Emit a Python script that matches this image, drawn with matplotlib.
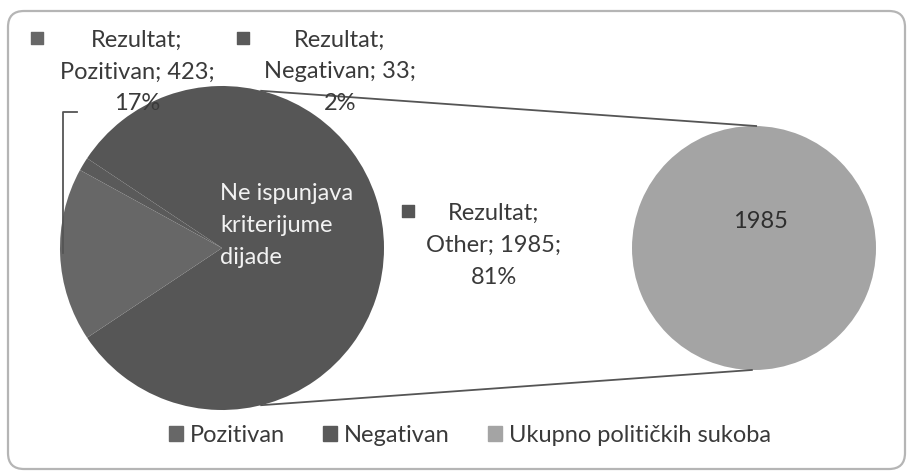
import numpy as np
import matplotlib
matplotlib.use('Agg')
import matplotlib.pyplot as plt
from matplotlib.patches import FancyBboxPatch, Patch

plt.rcParams['font.family'] = ['Lato', 'DejaVu Sans']

# ========== 数据 ==========
series_name = 'Rezultat'
slice_names = ['Pozitivan', 'Negativan', 'Other']
slice_values = [423, 33, 1985]
slice_percents = ['17%', '2%', '81%']
legend_labels = ['Pozitivan', 'Negativan', 'Ukupno političkih sukoba']
sub_values = [1985]
inner_text = ['Ne ispunjava', 'kriterijume', 'dijade']

W, H = 912, 471
def Y(y):
    return H - y

col_poz = '#676767'
col_neg = '#5a5a5a'
col_other = '#565656'
col_sub = '#a4a4a4'
txt = '#3a3a3a'

fig = plt.figure(figsize=(W / 100, H / 100), dpi=100)
ax = fig.add_axes([0, 0, 1, 1])

# ========== 主饼图 ==========
c1, r1 = (222, Y(248)), 162
total = sum(slice_values)
start = -360 * slice_values[2] / total / 2
ax.pie([slice_values[2], slice_values[1], slice_values[0]], center=c1, radius=r1,
       startangle=start, counterclock=True,
       colors=[col_other, col_neg, col_poz], wedgeprops=dict(linewidth=0))

# ========== 第二饼图 ==========
c2, r2 = (754, Y(248)), 122
ax.pie(sub_values, center=c2, radius=r2, colors=[col_sub],
       wedgeprops=dict(linewidth=0))
ax.text(c2[0] + 6, Y(222), str(sub_values[0]), ha='center', va='center',
        fontsize=17, color='#2e2e2e')

# 连接线
for a1, a2 in [(76, 89), (-76, -91)]:
    p1 = (c1[0] + r1 * np.cos(np.radians(a1)), c1[1] + r1 * np.sin(np.radians(a1)))
    p2 = (c2[0] + r2 * np.cos(np.radians(a2)), c2[1] + r2 * np.sin(np.radians(a2)))
    ax.plot([p1[0], p2[0]], [p1[1], p2[1]], color='#555555', lw=1.3, zorder=1)

# 饼内白字
for i, s in enumerate(inner_text):
    ax.text(220, Y(193 + 32 * i), s, ha='left', va='center', fontsize=17,
            color='#f2f2f2')

# ========== 数据标签 ==========
label_pos = [(137, 40, 37), (340, 40, 243), (494, 213, 408)]
label_cols = [col_poz, col_neg, col_other]
for k in range(3):
    cx, cy, mx = label_pos[k]
    lines = [series_name + ';', '%s; %d;' % (slice_names[k], slice_values[k]),
             slice_percents[k]]
    for j, s in enumerate(lines):
        ax.text(cx, Y(cy + 32 * j), s, ha='center', va='center', fontsize=17,
                color=txt)
    ax.scatter([mx], [Y(cy - 2)], marker='s', s=70, color=label_cols[k], zorder=5)

# 引线
ax.plot([77, 63, 63], [Y(112), Y(112), Y(253)], color='#555555', lw=1.3)

# ========== 图例 ==========
handles = [Patch(color=c) for c in [col_poz, col_neg, col_sub]]
ax.legend(handles, legend_labels, loc='center', bbox_to_anchor=(470 / W, 1 - 435 / H),
          ncol=3, frameon=False, fontsize=17, handlelength=0.6, handleheight=0.6,
          handletextpad=0.3, columnspacing=1.6, labelcolor=txt)

# 外框
ax.add_patch(FancyBboxPatch((8, Y(469)), 897, 458,
                            boxstyle='round,pad=0,rounding_size=16',
                            fc='none', ec='#b5b5b5', lw=1.6))

ax.set_xlim(0, W)
ax.set_ylim(0, H)
ax.set_aspect('equal')
ax.axis('off')

fig.savefig('out.png', dpi=100, facecolor='white')
